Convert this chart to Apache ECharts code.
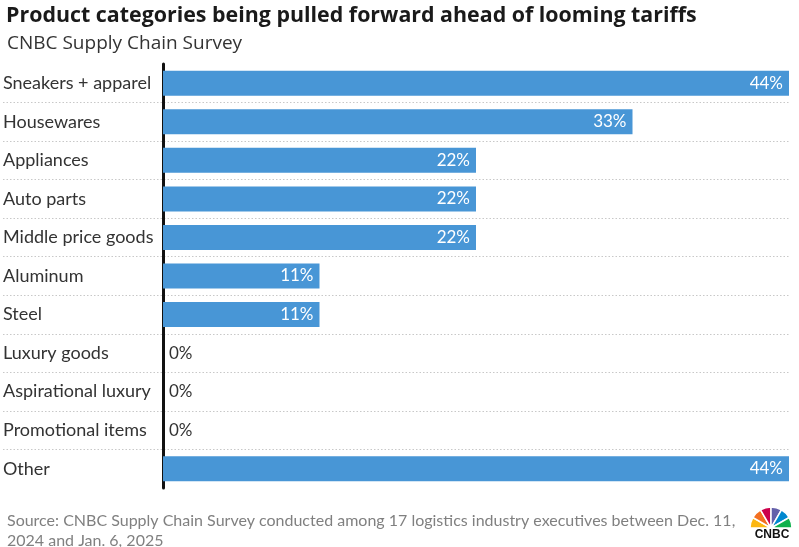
<!DOCTYPE html>
<html><head><meta charset="utf-8">
<script src="https://cdn.jsdelivr.net/npm/echarts@6/dist/echarts.min.js"></script>
<style>html,body{margin:0;padding:0;background:#fff}#c{width:799px;height:547px}</style>
</head><body><div id="c"></div>
<script>
const categories = ["Sneakers + apparel","Housewares","Appliances","Auto parts","Middle price goods","Aluminum","Steel","Luxury goods","Aspirational luxury","Promotional items","Other"];
const values = [44,33,22,22,22,11,11,0,0,0,44];
const titleText = "Product categories being pulled forward ahead of looming tariffs";
const subtitleText = "CNBC Supply Chain Survey";
const sourceText = "Source: CNBC Supply Chain Survey conducted among 17 logistics industry executives between Dec. 11,\n2024 and Jan. 6, 2025";

const FONT = "Lato, 'Open Sans', sans-serif";
const chart = echarts.init(document.getElementById('c'), null, {renderer:'canvas'});
const petalColors = ['#fcb711','#f37021','#cc004c','#6460aa','#0089d0','#0db14b'];
const cx = 771, cy = 528, r = 21;
const petals = petalColors.map((c,i)=>({
  type:'sector', shape:{cx:cx, cy:cy, r0:3, r:r, startAngle:Math.PI + i*Math.PI/6, endAngle:Math.PI + (i+1)*Math.PI/6},
  style:{fill:c, stroke:'#fff', lineWidth:1.5}
}));
const ROW = 424 / categories.length;

chart.setOption({
  animation:false,
  backgroundColor:'#fff',
  title:[
    {text:titleText, left:1, top:0, textStyle:{fontFamily:"'Open Sans', sans-serif", fontSize:21.4, fontWeight:'bold', color:'#1a1a1a'}},
    {text:subtitleText, left:2, top:29, textStyle:{fontFamily:"'Open Sans', sans-serif", fontSize:19, fontWeight:'normal', color:'#333'}},
    {text:sourceText, left:2, top:506, textStyle:{fontFamily:FONT, fontSize:16, fontWeight:'normal', color:'#808080', lineHeight:20}}
  ],
  grid:[
    {left:3, right:10, top:64 + ROW, height:ROW * (categories.length - 2)},
    {left:163, right:10, top:64, height:424}
  ],
  xAxis:[
    {gridIndex:0, type:'value', min:0, max:1, show:false},
    {gridIndex:1, type:'value', min:0, max:44, show:false}
  ],
  yAxis:[
    {gridIndex:0, type:'category', data:categories.slice(1), boundaryGap:false, inverse:true,
     axisLine:{show:false}, axisTick:{show:false}, axisLabel:{show:false},
     splitLine:{show:true, interval:0, lineStyle:{color:'#c8c8c8', type:[1.5,2], width:1}}},
    {gridIndex:1, type:'category', data:categories, inverse:true,
     axisLine:{show:true, lineStyle:{color:'#111', width:3}}, axisTick:{show:false},
     axisLabel:{align:'left', margin:160, fontFamily:FONT, fontSize:18, color:'#333'},
     splitLine:{show:false}}
  ],
  series:[{
    type:'bar', xAxisIndex:1, yAxisIndex:1, barWidth:25,
    itemStyle:{color:'#4896d6'},
    data: values.map(v=>({value:v, label: v===0
      ? {show:true, position:'right', distance:6, color:'#333', fontFamily:FONT, fontSize:17, formatter:'{c}%'}
      : {show:true, position:'insideRight', distance:6, color:'#fff', fontFamily:FONT, fontSize:17, formatter:'{c}%'}}))
  }],
  graphic:[
    ...petals,
    {type:'circle', shape:{cx:cx, cy:cy, r:3}, style:{fill:'#fff'}},
    {type:'rect', shape:{x:750, y:528, width:45, height:19}, style:{fill:'#fff'}},
    {type:'text', x:cx+1, y:529, style:{text:'CNBC', fill:'#111', fontFamily:"'Liberation Sans', Arial, sans-serif", fontWeight:'bold', fontSize:12, textAlign:'center', textVerticalAlign:'top'}}
  ]
});
</script></body></html>
